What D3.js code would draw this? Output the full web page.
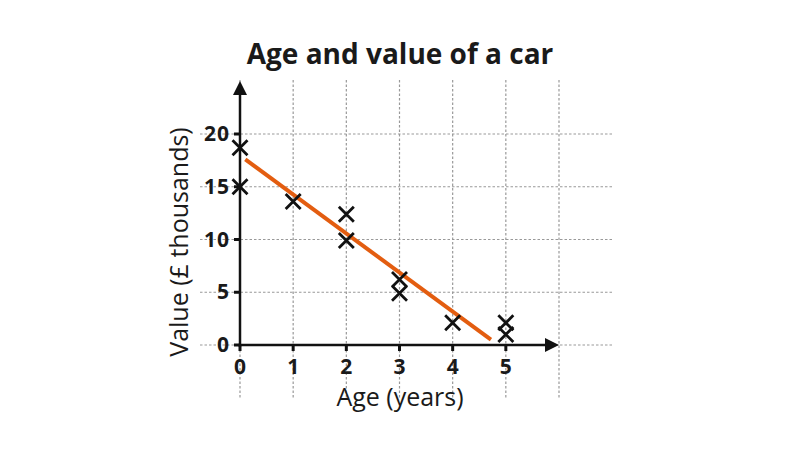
<!DOCTYPE html>
<html>
<head>
<meta charset="utf-8">
<script src="https://cdn.jsdelivr.net/npm/d3@7"></script>
<style>
  body { margin: 0; background: #fff; }
  text { font-family: "Open Sans", sans-serif; fill: #1a1a1a; }
</style>
</head>
<body>
<svg class="plot" width="800" height="450"></svg>
<script>
// data
const ages = [0, 0, 1, 2, 2, 3, 3, 4, 5, 5];
const values = [18.7, 15, 13.6, 12.4, 9.9, 6.2, 4.9, 2.1, 2.1, 1.0];
const xTicks = [0, 1, 2, 3, 4, 5];
const yTicks = [0, 5, 10, 15, 20];
const gridX = [0, 1, 2, 3, 4, 5, 6];
const trendAge = [0.1, 4.72];
const trendValue = [17.6, 0.5];

const xS = d3.scaleLinear().domain([0, 6]).range([240, 559]);
const yS = d3.scaleLinear().domain([0, 20]).range([345, 134]);

const plot = d3.select('.plot');
const l_bg = plot.append('g');
const l_main = plot.append('g');
const l_fg = plot.append('g');

// dotted grid
l_bg.selectAll('.hgrid').data(yTicks)
  .join('line')
  .attr('x1', 200).attr('x2', 612)
  .attr('y1', d => yS(d)).attr('y2', d => yS(d))
  .attr('stroke', '#999').attr('stroke-width', 1.2)
  .attr('stroke-dasharray', '2.5,2');

l_bg.selectAll('.vgrid').data(gridX)
  .join('line')
  .attr('x1', d => xS(d)).attr('x2', d => xS(d))
  .attr('y1', 80).attr('y2', 398)
  .attr('stroke', '#999').attr('stroke-width', 1.2)
  .attr('stroke-dasharray', '2.5,2');

// axes with arrows
const ax = '#111';
l_main.append('line')
  .attr('x1', xS(0)).attr('x2', xS(0))
  .attr('y1', yS(0) + 1.5).attr('y2', 92)
  .attr('stroke', ax).attr('stroke-width', 2.5);
l_main.append('path')
  .attr('d', `M${xS(0)},81 L${xS(0) - 7},95 L${xS(0) + 7},95 Z`)
  .attr('fill', ax);

l_main.append('line')
  .attr('x1', xS(0) - 1.5).attr('x2', 548)
  .attr('y1', yS(0)).attr('y2', yS(0))
  .attr('stroke', ax).attr('stroke-width', 2.5);
l_main.append('path')
  .attr('d', `M559,${yS(0)} L545,${yS(0) - 7} L545,${yS(0) + 7} Z`)
  .attr('fill', ax);

// ticks
l_main.selectAll('.ytick').data(yTicks)
  .join('line')
  .attr('x1', xS(0) - 6).attr('x2', xS(0))
  .attr('y1', d => yS(d)).attr('y2', d => yS(d))
  .attr('stroke', ax).attr('stroke-width', 3);

l_main.selectAll('.xtick').data(xTicks)
  .join('line')
  .attr('x1', d => xS(d)).attr('x2', d => xS(d))
  .attr('y1', yS(0)).attr('y2', yS(0) + 6)
  .attr('stroke', ax).attr('stroke-width', 3);

l_main.selectAll('.ylab').data(yTicks)
  .join('text')
  .attr('x', 230).attr('y', d => yS(d) + 7)
  .attr('text-anchor', 'end')
  .attr('font-size', 21).attr('font-weight', 700)
  .attr('letter-spacing', 1)
  .text(d => d);

l_main.selectAll('.xlab').data(xTicks)
  .join('text')
  .attr('x', d => xS(d)).attr('y', 374)
  .attr('text-anchor', 'middle')
  .attr('font-size', 21).attr('font-weight', 700)
  .text(d => d);

// trend line
const line = d3.line().x(d => xS(d[0])).y(d => yS(d[1]));
l_fg.append('path')
  .datum(d3.zip(trendAge, trendValue))
  .attr('d', line)
  .attr('fill', 'none')
  .attr('stroke', '#e35d10')
  .attr('stroke-width', 4);

// crosses
const r = 7.5;
l_fg.selectAll('.pt').data(d3.zip(ages, values))
  .join('path')
  .attr('d', d => {
      const x = xS(d[0]), y = yS(d[1]);
      return `M${x - r},${y - r}L${x + r},${y + r}M${x - r},${y + r}L${x + r},${y - r}`;
  })
  .attr('stroke', '#111').attr('stroke-width', 2.8)
  .attr('fill', 'none');

// titles
l_fg.append('text')
  .attr('x', 400).attr('y', 64)
  .attr('text-anchor', 'middle')
  .attr('font-size', 28).attr('font-weight', 700)
  .text('Age and value of a car');

l_fg.append('text')
  .attr('x', 400).attr('y', 406)
  .attr('text-anchor', 'middle')
  .attr('font-size', 25)
  .text('Age (years)');

l_fg.append('text')
  .attr('transform', 'translate(188,242) rotate(-90)')
  .attr('text-anchor', 'middle')
  .attr('font-size', 25)
  .text('Value (£ thousands)');
</script>
</body>
</html>
